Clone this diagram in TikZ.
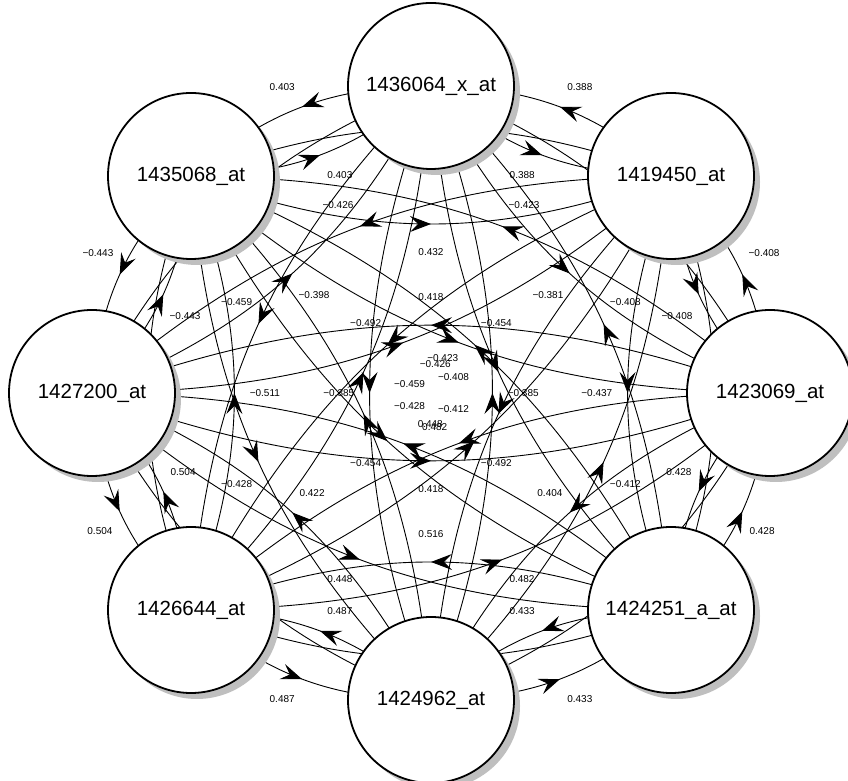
\documentclass[tikz,border=0pt]{standalone}
\usepackage{fontspec}
\setmainfont{Liberation Sans}
\usetikzlibrary{backgrounds}
\usetikzlibrary{arrows.meta,decorations.markings}
\usetikzlibrary{shadows}

\tikzset{
  gene/.style={circle, draw, line width=1.8pt, fill=white, minimum size=166pt,
    inner sep=0pt, font=\fontsize{20.5}{24}\selectfont,
    drop shadow={shadow xshift=6pt, shadow yshift=-6pt, fill=gray!50, opacity=1}},
  link/.style={line width=0.9pt, bend right=20, postaction={decorate},
    decoration={markings, mark=at position 0.5 with
      {\arrow{Stealth[length=21pt,width=16pt,inset=8pt]}}}},
  corr/.style={circle, inner sep=0pt, outer sep=15pt, auto, swap, pos=0.5,
    font=\fontsize{10}{12}\selectfont},
  mid/.style={corr, auto=false, outer sep=0pt}
}

\begin{document}
\begin{tikzpicture}[x=1pt,y=1pt]

      \useasboundingbox (0,0) rectangle (848,781);

      \node[gene] at (431,695) (A) {1436064\_x\_at};
      \node[gene] at (671,605) (B) {1419450\_at};
      \node[gene] at (770,388) (C) {1423069\_at};
      \node[gene] at (671,171) (D) {1424251\_a\_at};
      \node[gene] at (431, 81) (E) {1424962\_at};
      \node[gene] at (191,171) (F) {1426644\_at};
      \node[gene] at ( 92,388) (G) {1427200\_at};
      \node[gene] at (191,605) (H) {1435068\_at};

      \begin{scope}[on background layer]
      % neighbours
      \draw[link] (A.center) to node[corr] {0.388} (B.center);
      \draw[link] (B.center) to node[corr] {0.388} (A.center);
      \draw[link] (B.center) to node[corr] {−0.408} (C.center);
      \draw[link] (C.center) to node[corr] {−0.408} (B.center);
      \draw[link] (C.center) to node[corr] {0.428} (D.center);
      \draw[link] (D.center) to node[corr] {0.428} (C.center);
      \draw[link] (D.center) to node[corr] {0.433} (E.center);
      \draw[link] (E.center) to node[corr] {0.433} (D.center);
      \draw[link] (E.center) to node[corr] {0.487} (F.center);
      \draw[link] (F.center) to node[corr] {0.487} (E.center);
      \draw[link] (F.center) to node[corr] {0.504} (G.center);
      \draw[link] (G.center) to node[corr] {0.504} (F.center);
      \draw[link] (G.center) to node[corr] {−0.443} (H.center);
      \draw[link] (H.center) to node[corr] {−0.443} (G.center);
      \draw[link] (H.center) to node[corr] {0.403} (A.center);
      \draw[link] (A.center) to node[corr] {0.403} (H.center);

      % two apart (outer label lies under a node)
      \draw[link] (A.center) to node[corr] {−0.381} (C.center);
      \draw[link] (C.center) to (A.center);
      \draw[link] (B.center) to node[corr] {−0.437} (D.center);
      \draw[link] (D.center) to (B.center);
      \draw[link] (C.center) to node[corr] {0.404} (E.center);
      \draw[link] (E.center) to (C.center);
      \draw[link] (D.center) to node[corr] {0.516} (F.center);
      \draw[link] (F.center) to (D.center);
      \draw[link] (E.center) to node[corr] {0.422} (G.center);
      \draw[link] (G.center) to (E.center);
      \draw[link] (F.center) to node[corr] {−0.511} (H.center);
      \draw[link] (H.center) to (F.center);
      \draw[link] (G.center) to node[corr] {−0.398} (A.center);
      \draw[link] (A.center) to (G.center);
      \draw[link] (H.center) to node[corr] {0.432} (B.center);
      \draw[link] (B.center) to (H.center);

      % three apart, inner labels sit in the middle
      \draw[link] (A.center) to node[mid, xshift=-45, yshift=-5] {−0.408} (D.center);
      \draw[link] (D.center) to node[corr] {−0.408} (A.center);
      \draw[link] (B.center) to node[mid, xshift=-45, yshift=5] {−0.412} (E.center);
      \draw[link] (E.center) to node[corr] {−0.412} (B.center);
      \draw[link] (C.center) to node[mid, xshift=-24, yshift=16] {0.482} (F.center);
      \draw[link] (F.center) to node[corr] {0.482} (C.center);
      \draw[link] (D.center) to node[mid, xshift=27, yshift=19] {0.448} (G.center);
      \draw[link] (G.center) to node[corr] {0.448} (D.center);
      \draw[link] (E.center) to node[mid, xshift=46, yshift=8] {−0.428} (H.center);
      \draw[link] (H.center) to node[corr] {−0.428} (E.center);
      \draw[link] (F.center) to node[mid, xshift=46, yshift=-12] {−0.459} (A.center);
      \draw[link] (A.center) to node[corr] {−0.459} (F.center);
      \draw[link] (G.center) to node[mid, xshift=32, yshift=-21] {−0.426} (B.center);
      \draw[link] (B.center) to node[corr] {−0.426} (G.center);
      \draw[link] (H.center) to node[mid, xshift=-16, yshift=-15] {−0.423} (C.center);
      \draw[link] (C.center) to node[corr] {−0.423} (H.center);

      % opposite
      \draw[link] (A.center) to node[corr] {−0.385} (E.center);
      \draw[link] (E.center) to node[corr] {−0.385} (A.center);
      \draw[link] (B.center) to node[corr] {−0.492} (F.center);
      \draw[link] (F.center) to node[corr] {−0.492} (B.center);
      \draw[link] (C.center) to node[corr] {0.418} (G.center);
      \draw[link] (G.center) to node[corr] {0.418} (C.center);
      \draw[link] (D.center) to node[corr] {−0.454} (H.center);
      \draw[link] (H.center) to node[corr] {−0.454} (D.center);
      \end{scope}
    \end{tikzpicture}
\end{document}
